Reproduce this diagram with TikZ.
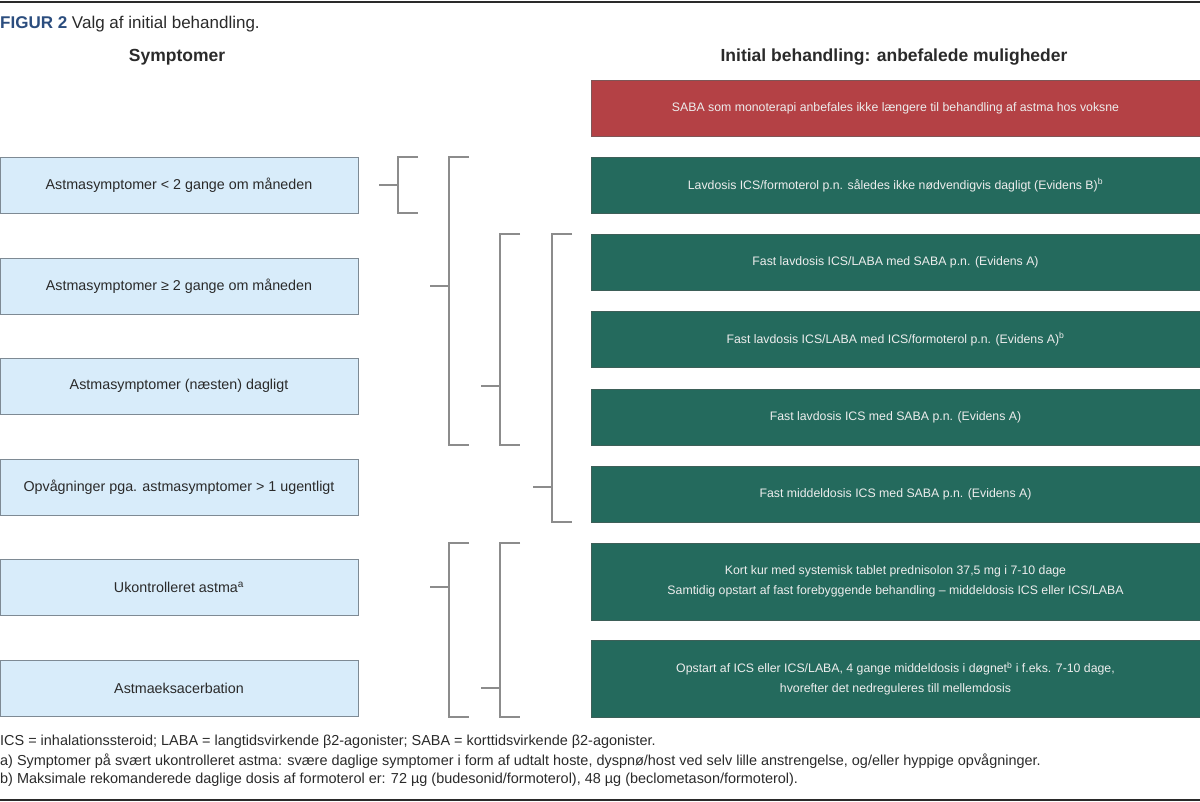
\documentclass[tikz,border=0pt]{standalone}
\usepackage{fontspec}
\setmainfont{Liberation Sans}
\usepackage{tikz}
\usetikzlibrary{positioning}
\usepackage{xcolor}
\definecolor{symfill}{HTML}{D8ECFA}
\definecolor{symline}{HTML}{7E8A94}
\definecolor{tgreen}{HTML}{246A5D}
\definecolor{tgreenline}{HTML}{3D5F58}
\definecolor{tred}{HTML}{B44145}
\definecolor{tredline}{HTML}{7F5556}
\definecolor{figblue}{HTML}{2B4D7E}
\definecolor{txt}{HTML}{2A2A2A}
\definecolor{brkgray}{HTML}{8C8C8C}

\begin{document}
\begin{tikzpicture}[x=1pt,y=-1pt,
  every node/.style={font=\fontsize{14.3}{19}\selectfont, text=txt},
  symbox/.style={draw=symline, fill=symfill, line width=0.9pt, minimum width=358pt, minimum height=56pt, anchor=north west, inner sep=0pt, outer sep=0pt},
  tbox/.style={draw=tgreenline, fill=tgreen, line width=0.9pt, minimum width=609pt, minimum height=56pt, anchor=north west, inner sep=0pt, outer sep=0pt, text=white!93!black, align=center, font=\fontsize{12.3}{20}\selectfont},
  redbox/.style={tbox, draw=tredline, fill=tred},
  brk/.style={draw=brkgray, line width=1.1pt},
  head/.style={font=\fontsize{17.5}{20}\selectfont\bfseries},
  fnote/.style={anchor=west, inner sep=0pt, font=\fontsize{14.45}{19}\selectfont}]
\useasboundingbox (0,0) rectangle (1200,802);
% frame rules
\draw[line width=1.8pt, draw=txt] (0,2) -- (1200,2);
\draw[line width=1.8pt, draw=txt] (0,800) -- (1200,800);
\node[anchor=west, inner sep=0pt, font=\fontsize{17}{20}\selectfont] (title) at (0,24) {\textcolor{figblue}{\textbf{FIGUR 2}} Valg af initial behandling.};
\node[head] (hsym) at (177,57) {Symptomer};
\node[head] (hbeh) at (894,57) {Initial behandling: anbefalede muligheder};

% symptoms
\node[symbox] (s1) at (0,157) {Astmasymptomer < 2 gange om måneden};
\node[symbox] (s2) at (0,258) {Astmasymptomer ≥ 2 gange om måneden};
\node[symbox] (s3) at (0,358) {Astmasymptomer (næsten) dagligt};
\node[symbox] (s4) at (0,459) {Opvågninger pga. astmasymptomer > 1 ugentligt};
\node[symbox] (s5) at (0,559) {Ukontrolleret astma\textsuperscript{a}};
\node[symbox] (s6) at (0,660) {Astmaeksacerbation};

% treatments
\node[redbox] (r0) at (591,80) {SABA som monoterapi anbefales ikke længere til behandling af astma hos voksne};
\node[tbox] (r1) at (591,157) {Lavdosis ICS/formoterol p.n. således ikke nødvendigvis dagligt (Evidens B)\textsuperscript{b}};
\node[tbox] (r2) at (591,234) {Fast lavdosis ICS/LABA med SABA p.n. (Evidens A)};
\node[tbox] (r3) at (591,311) {Fast lavdosis ICS/LABA med ICS/formoterol p.n. (Evidens A)\textsuperscript{b}};
\node[tbox] (r4) at (591,389) {Fast lavdosis ICS med SABA p.n. (Evidens A)};
\node[tbox] (r5) at (591,466) {Fast middeldosis ICS med SABA p.n. (Evidens A)};
\node[tbox, minimum height=77pt] (r6) at (591,543) {Kort kur med systemisk tablet prednisolon 37,5 mg i 7-10 dage\\Samtidig opstart af fast forebyggende behandling – middeldosis ICS eller ICS/LABA};
\node[tbox, minimum height=77pt] (r7) at (591,640) {Opstart af ICS eller ICS/LABA, 4 gange middeldosis i døgnet\textsuperscript{b} i f.eks. 7-10 dage,\\hvorefter det nedreguleres till mellemdosis};

% bracket columns
\coordinate (c1) at (398,0);
\coordinate (c2) at (449,0);
\coordinate (c3) at (500,0);
\coordinate (c4) at (552,0);

\draw[brk] (c1 |- r1.north) ++(20,0) -- (c1 |- r1.north) -- (c1 |- r1.south) -- ++(20,0);
\draw[brk] (c2 |- r1.north) ++(20,0) -- (c2 |- r1.north) -- (c2 |- r4.south) -- ++(20,0);
\draw[brk] (c3 |- r2.north) ++(20,0) -- (c3 |- r2.north) -- (c3 |- r4.south) -- ++(20,0);
\draw[brk] (c4 |- r2.north) ++(20,0) -- (c4 |- r2.north) -- (c4 |- r5.south) -- ++(20,0);
\draw[brk] (c2 |- r6.north) ++(20,0) -- (c2 |- r6.north) -- (c2 |- r7.south) -- ++(20,0);
\draw[brk] (c3 |- r6.north) ++(20,0) -- (c3 |- r6.north) -- (c3 |- r7.south) -- ++(20,0);

% stubs from symptoms
\draw[brk] (s1.east -| c1) -- ++(-19,0);
\draw[brk] (s2.east -| c2) -- ++(-19,0);
\draw[brk] (s3.east -| c3) -- ++(-19,0);
\draw[brk] (s4.east -| c4) -- ++(-19,0);
\draw[brk] (s5.east -| c2) -- ++(-19,0);
\draw[brk] (s6.east -| c3) -- ++(-19,0);

% footnotes
\node[fnote] (fn0) at (0,742) {ICS = inhalationssteroid; LABA = langtidsvirkende β2-agonister; SABA = korttidsvirkende β2-agonister.};
\node[fnote] (fn1) at (0,761) {a) Symptomer på svært ukontrolleret astma: svære daglige symptomer i form af udtalt hoste, dyspnø/host ved selv lille anstrengelse, og/eller hyppige opvågninger.};
\node[fnote] (fn2) at (0,780) {b) Maksimale rekomanderede daglige dosis af formoterol er: 72 µg (budesonid/formoterol), 48 µg (beclometason/formoterol).};
\end{tikzpicture}
\end{document}
